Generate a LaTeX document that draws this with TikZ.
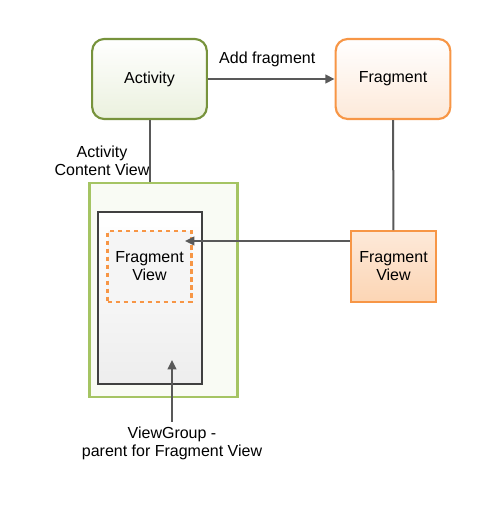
\documentclass[tikz,border=0pt]{standalone}
\usepackage{fontspec}
\setmainfont{Liberation Sans}
\usetikzlibrary{arrows.meta}
\definecolor{actline}{HTML}{77933C}
\definecolor{actfill}{HTML}{EBF1DE}
\definecolor{fragline}{HTML}{F79646}
\definecolor{fragfill}{HTML}{FDE9D9}
\definecolor{fvfill}{HTML}{FCD5B4}
\definecolor{cvline}{HTML}{A5C463}
\definecolor{vgline}{HTML}{404040}
\definecolor{conn}{HTML}{595959}
\begin{document}
\begin{tikzpicture}[x=0.75pt, y=-0.75pt, font=\fontsize{12}{13.5}\selectfont,
  box/.style={draw, line width=1.6pt, align=center, inner sep=0pt},
  conn/.style={draw=conn, line width=1.5pt},
  arr/.style={conn, -{Triangle[length=7pt,width=6.5pt]}}]
\useasboundingbox (0,0) rectangle (494,506);
\node[box, rounded corners=9pt, draw=actline, top color=white, bottom color=actfill,
  minimum width=86pt, minimum height=60pt] (activity) at (149.5,79) {Activity};
\node[box, rounded corners=9pt, draw=fragline, top color=white, bottom color=fragfill,
  minimum width=86pt, minimum height=60pt] (fragment) at (393,79) {Fragment};
\node[box, draw=cvline, fill=white!93!cvline, minimum width=111pt, minimum height=161pt] (content) at (163.5,290) {};
\node[box, draw=vgline, line width=1.5pt, top color=white, bottom color=black!7,
  minimum width=78pt, minimum height=129pt] (viewgroup) at (149.5,298) {};
\node[box, draw=fragline, dash pattern=on 3.5pt off 2.5pt, fill=blue!2!black!4,
  minimum width=63pt, minimum height=53pt] (fvinner) at (149.5,266.5) {Fragment\\View};
\node[box, draw=fragline, top color=fragfill, bottom color=fvfill,
  minimum width=64pt, minimum height=53pt] (fragview) at (393.5,266.5) {Fragment\\View};
\node[align=center] (cvlabel) at (102,161) {Activity\\Content View};
\node[align=center] (vglabel) at (172,443) {ViewGroup -\\parent for Fragment View};
\coordinate (fvtarget) at (185,241);
\coordinate (vgtarget) at (172,360);
\draw[arr] (activity) -- node[above=5pt, xshift=-3pt] {Add fragment} (fragment);
\draw[conn] (activity.south) -- (activity.south |- content.north);
\draw[conn] (fragment) -- (fragview);
\draw[arr] (fragview.west |- fvtarget) -- (fvtarget);
\draw[arr] (vglabel.north) -- (vgtarget);
\end{tikzpicture}
\end{document}
